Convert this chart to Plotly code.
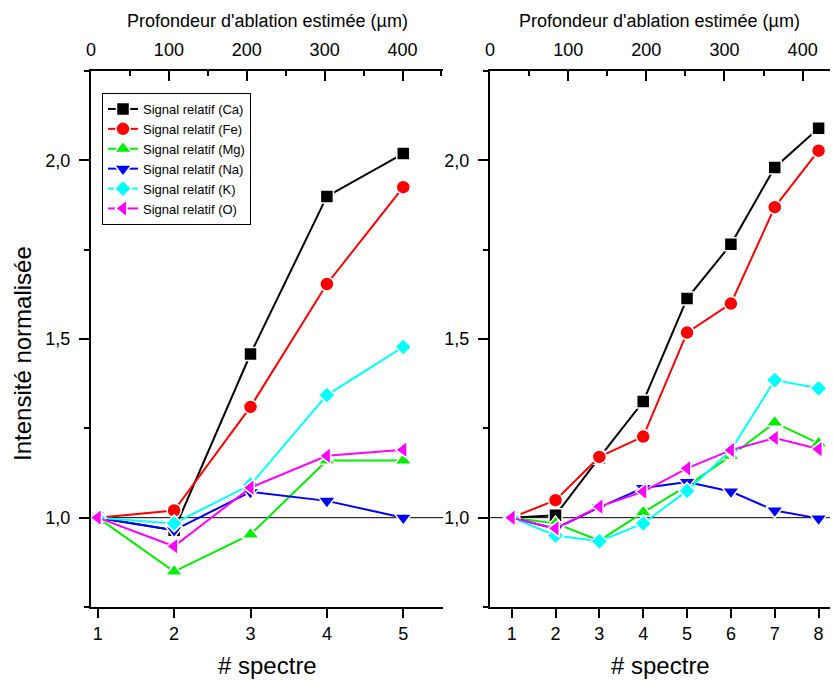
import plotly.graph_objects as go

# ---------------- data ----------------
spectre_left = [1, 2, 3, 4, 5]
ca_left = [1.0, 0.965, 1.458, 1.899, 2.019]
fe_left = [1.0, 1.02, 1.31, 1.654, 1.925]
mg_left = [1.0, 0.849, 0.953, 1.16, 1.16]
na_left = [1.0, 0.965, 1.072, 1.047, 1.0]
k_left = [1.0, 0.984, 1.092, 1.343, 1.478]
o_left = [1.0, 0.92, 1.084, 1.173, 1.19]

spectre_right = [1, 2, 3, 4, 5, 6, 7, 8]
ca_right = [1.0, 1.007, 1.168, 1.325, 1.613, 1.765, 1.98, 2.09]
fe_right = [1.0, 1.049, 1.17, 1.227, 1.518, 1.599, 1.869, 2.027]
mg_right = [1.0, 0.984, 0.936, 1.015, 1.089, 1.173, 1.266, 1.208]
na_right = [1.0, 0.969, 1.029, 1.083, 1.1, 1.073, 1.02, 0.998]
k_right = [1.0, 0.95, 0.934, 0.984, 1.075, 1.189, 1.385, 1.362]
o_right = [1.0, 0.97, 1.031, 1.073, 1.138, 1.189, 1.223, 1.192]

series_names = ["Signal relatif (Ca)", "Signal relatif (Fe)", "Signal relatif (Mg)",
                "Signal relatif (Na)", "Signal relatif (K)", "Signal relatif (O)"]
left_values = [ca_left, fe_left, mg_left, na_left, k_left, o_left]
right_values = [ca_right, fe_right, mg_right, na_right, k_right, o_right]

colors = ["#000000", "#FF0000", "#00EE00", "#0000FF", "#00FFFF", "#FF00FF"]
symbols = ["square", "circle", "triangle-up", "triangle-down", "diamond", "triangle-left"]
sizes = [13, 14, 15, 15, 13, 15]

FONT = "Liberation Sans, Arial, sans-serif"

fig = go.Figure()
for name, vals, c, s, sz in zip(series_names, left_values, colors, symbols, sizes):
    fig.add_trace(go.Scatter(x=spectre_left, y=vals, name=name, mode="lines+markers",
                             line=dict(color=c, width=2),
                             marker=dict(color=c, symbol=s, size=sz, line=dict(width=1.5, color="white")),
                             xaxis="x", yaxis="y"))
for name, vals, c, s, sz in zip(series_names, right_values, colors, symbols, sizes):
    fig.add_trace(go.Scatter(x=spectre_right, y=vals, name=name, mode="lines+markers",
                             line=dict(color=c, width=2),
                             marker=dict(color=c, symbol=s, size=sz, line=dict(width=1.5, color="white")),
                             xaxis="x2", yaxis="y2", showlegend=False))

# empty traces so that the top (depth) axes are drawn
fig.add_trace(go.Scatter(x=[], y=[], xaxis="x3", yaxis="y", showlegend=False, hoverinfo="skip"))
fig.add_trace(go.Scatter(x=[], y=[], xaxis="x4", yaxis="y2", showlegend=False, hoverinfo="skip"))

W, H = 833, 680
L, R, T, B = 91, 3, 71, 73
pw = W - L - R
ph = H - T - B

common_x = dict(showgrid=False, zeroline=False, showline=True, linecolor="black", linewidth=2,
                ticks="outside", ticklen=9, tickwidth=2, tickcolor="black",
                tickfont=dict(family=FONT, size=18, color="black"))
common_y = dict(showgrid=False, zeroline=False, showline=True, linecolor="black", linewidth=2,
                ticks="outside", ticklen=10, tickwidth=2, tickcolor="black",
                tickfont=dict(family=FONT, size=18, color="black"), ticklabelstandoff=5,
                range=[0.75, 2.25], tick0=0, dtick=0.5, tickformat=".1f",
                minor=dict(dtick=0.25, tick0=0, ticks="outside", ticklen=5, tickwidth=2, tickcolor="black"),
                domain=[0, 1])
common_top = dict(showgrid=False, zeroline=False, showline=True, linecolor="black", linewidth=2,
                  side="top", ticks="inside", ticklen=10, tickwidth=2, tickcolor="black",
                  tickfont=dict(family=FONT, size=18, color="black"),
                  tick0=0, dtick=100, ticklabelstandoff=6,
                  minor=dict(dtick=50, tick0=0, ticks="inside", ticklen=5, tickwidth=2, tickcolor="black"))

left_dom = [0, (443 - L) / pw]
right_dom = [(490 - L) / pw, 1]

fig.update_layout(
    width=W, height=H,
    margin=dict(l=L, r=R, t=T, b=B),
    paper_bgcolor="white", plot_bgcolor="white",
    separators=",.",
    font=dict(family=FONT, color="black"),
    xaxis=dict(common_x, domain=left_dom, range=[0.912, 5.52], tickvals=spectre_left, anchor="y"),
    yaxis=dict(common_y, anchor="x"),
    xaxis2=dict(common_x, domain=right_dom, range=[0.506, 8.26], tickvals=spectre_right, anchor="y2"),
    yaxis2=dict(common_y, anchor="x2"),
    xaxis3=dict(common_top, overlaying="x", anchor="y", range=[0, 452]),
    xaxis4=dict(common_top, overlaying="x2", anchor="y2", range=[0, 435]),
    legend=dict(x=(102 - L) / pw, y=1 - (93 - T) / ph, xanchor="left", yanchor="top",
                bgcolor="white", bordercolor="black", borderwidth=1,
                font=dict(family=FONT, size=13, color="black"), tracegroupgap=0),
    showlegend=True,
)

# reference line at 1,0 in both panels
for xr, yr in [("x domain", "y"), ("x2 domain", "y2")]:
    fig.add_shape(type="line", xref=xr, yref=yr, x0=0, x1=1, y0=1, y1=1,
                  line=dict(color="black", width=1), layer="below")


def px_x(p):
    return (p - L) / pw


def px_y(p):
    return 1 - (p - T) / ph


annots = [
    dict(text="# spectre", x=px_x(267), y=px_y(665), size=24, angle=0),
    dict(text="# spectre", x=px_x(660), y=px_y(665), size=24, angle=0),
    dict(text="Profondeur d'ablation estimée (µm)", x=px_x(267), y=px_y(21), size=18, angle=0),
    dict(text="Profondeur d'ablation estimée (µm)", x=px_x(659), y=px_y(21), size=18, angle=0),
    dict(text="Intensité normalisée", x=px_x(22), y=px_y(354), size=24, angle=-90),
]
for a in annots:
    fig.add_annotation(text=a["text"], xref="paper", yref="paper", x=a["x"], y=a["y"],
                       xanchor="center", yanchor="middle", showarrow=False, textangle=a["angle"],
                       font=dict(family=FONT, size=a["size"], color="black"))

fig.write_html("out.html", config={"displayModeBar": False},
               post_script="document.body.style.margin='0px';")
